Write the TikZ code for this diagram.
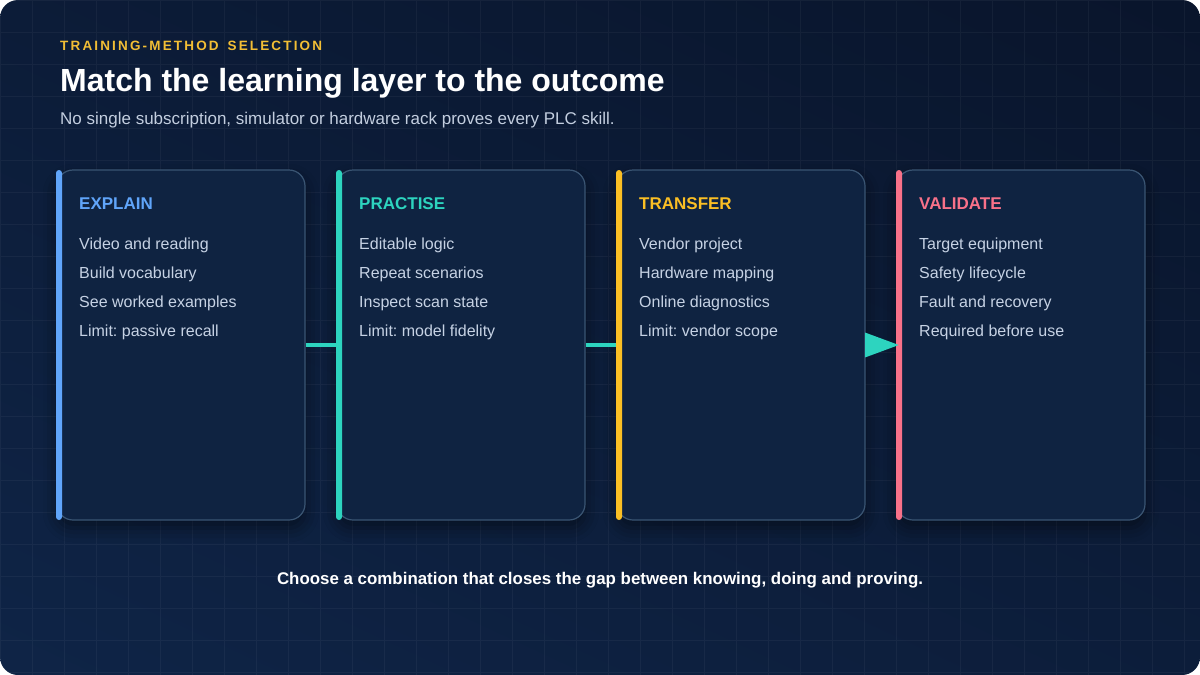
\documentclass[tikz,border=0pt]{standalone}
\usepackage{fontspec}
\setmainfont{Liberation Sans}
\usetikzlibrary{arrows.meta,shadows.blur}
\frenchspacing
\definecolor{bgA}{HTML}{09142A}
\definecolor{bgB}{HTML}{0F2548}
\definecolor{cardfill}{HTML}{0F2341}
\definecolor{cardline}{HTML}{3A5573}
\definecolor{kicker}{HTML}{F2BE35}
\definecolor{subtxt}{HTML}{C3CEDF}
\definecolor{itemtxt}{HTML}{C6D2E4}
\definecolor{cBlue}{HTML}{60A5FA}
\definecolor{cTeal}{HTML}{2DD4BF}
\definecolor{cYellow}{HTML}{FBBF24}
\definecolor{cPink}{HTML}{F87189}
\tikzset{
  cardbox/.style={draw=cardline, line width=1.2pt, fill=cardfill, rounded corners=16pt,
    minimum width=248pt, minimum height=350pt, inner sep=0pt,
    blur shadow={shadow xshift=0pt, shadow yshift=-8pt, shadow blur radius=14pt, shadow opacity=45}},
  accentbar/.style={rounded corners=3pt, minimum width=6pt, minimum height=350pt, inner sep=0pt, draw=none},
  cardhead/.style={anchor=base west, inner sep=0pt, font=\fontsize{17}{20}\selectfont\bfseries},
  carditem/.style={anchor=base west, inner sep=0pt, text=itemtxt, font=\fontsize{16}{19}\selectfont},
  link/.style={draw=cTeal, line width=3.5pt},
}
\begin{document}
\begin{tikzpicture}[x=1pt,y=-1pt]
\useasboundingbox (0,0) rectangle (1200,675);
\fill[white] (0,0) rectangle (1200,675);
\begin{scope}
\clip[rounded corners=18pt] (0,0) rectangle (1200,675);
\shade[top color=bgA, bottom color=bgB, shading angle=-25] (-200,-200) rectangle (1400,875);
\draw[white, opacity=0.045, line width=1pt, step=32pt] (0,0) grid (1200,675);
\end{scope}

% header
\node[anchor=base west, inner sep=0pt, text=kicker, font=\fontsize{13.5}{16}\selectfont\bfseries\addfontfeature{LetterSpace=16}] (kick) at (60,50) {TRAINING-METHOD\hspace{3pt} SELECTION};
\node[anchor=base west, inner sep=0pt, text=white, font=\fontsize{32}{38}\selectfont\bfseries] (title) at (60,91) {Match the learning layer to the outcome};
\node[anchor=base west, inner sep=0pt, text=subtxt, font=\fontsize{17}{20}\selectfont] (sub) at (60,124) {No single subscription, simulator or hardware rack proves every PLC skill.};

% cards
\foreach \i/\x/\col/\head/\a/\b/\c/\d in {
  1/57/cBlue/EXPLAIN/Video and reading/Build vocabulary/See worked examples/Limit: passive recall,
  2/337/cTeal/PRACTISE/Editable logic/Repeat scenarios/Inspect scan state/Limit: model fidelity,
  3/617/cYellow/TRANSFER/Vendor project/Hardware mapping/Online diagnostics/Limit: vendor scope,
  4/897/cPink/VALIDATE/Target equipment/Safety lifecycle/Fault and recovery/Required before use}{
  \node[cardbox] (c\i) at (\x+124,345) {};
  \node[accentbar, fill=\col] (bar\i) at (\x+2,345) {};
  \node[cardhead, text=\col] (h\i) at (\x+22,209) {\head};
  \node[carditem] (i\i a) at (\x+22,249) {\a};
  \node[carditem] (i\i b) at (\x+22,278) {\b};
  \node[carditem] (i\i c) at (\x+22,307) {\c};
  \node[carditem] (i\i d) at (\x+22,336) {\d};
}

% connectors
\draw[link] (c1.east) -- (bar2.west);
\draw[link] (c2.east) -- (bar3.west);
\draw[link, -{Triangle[length=34pt,width=24pt]}] (c3.east) -- (bar4.center);

% footer
\node[anchor=base, inner sep=0pt, text=white, font=\fontsize{16.9}{20}\selectfont\bfseries] (foot) at (600,584) {Choose a combination that closes the gap between knowing, doing and proving.};
\end{tikzpicture}
\end{document}
